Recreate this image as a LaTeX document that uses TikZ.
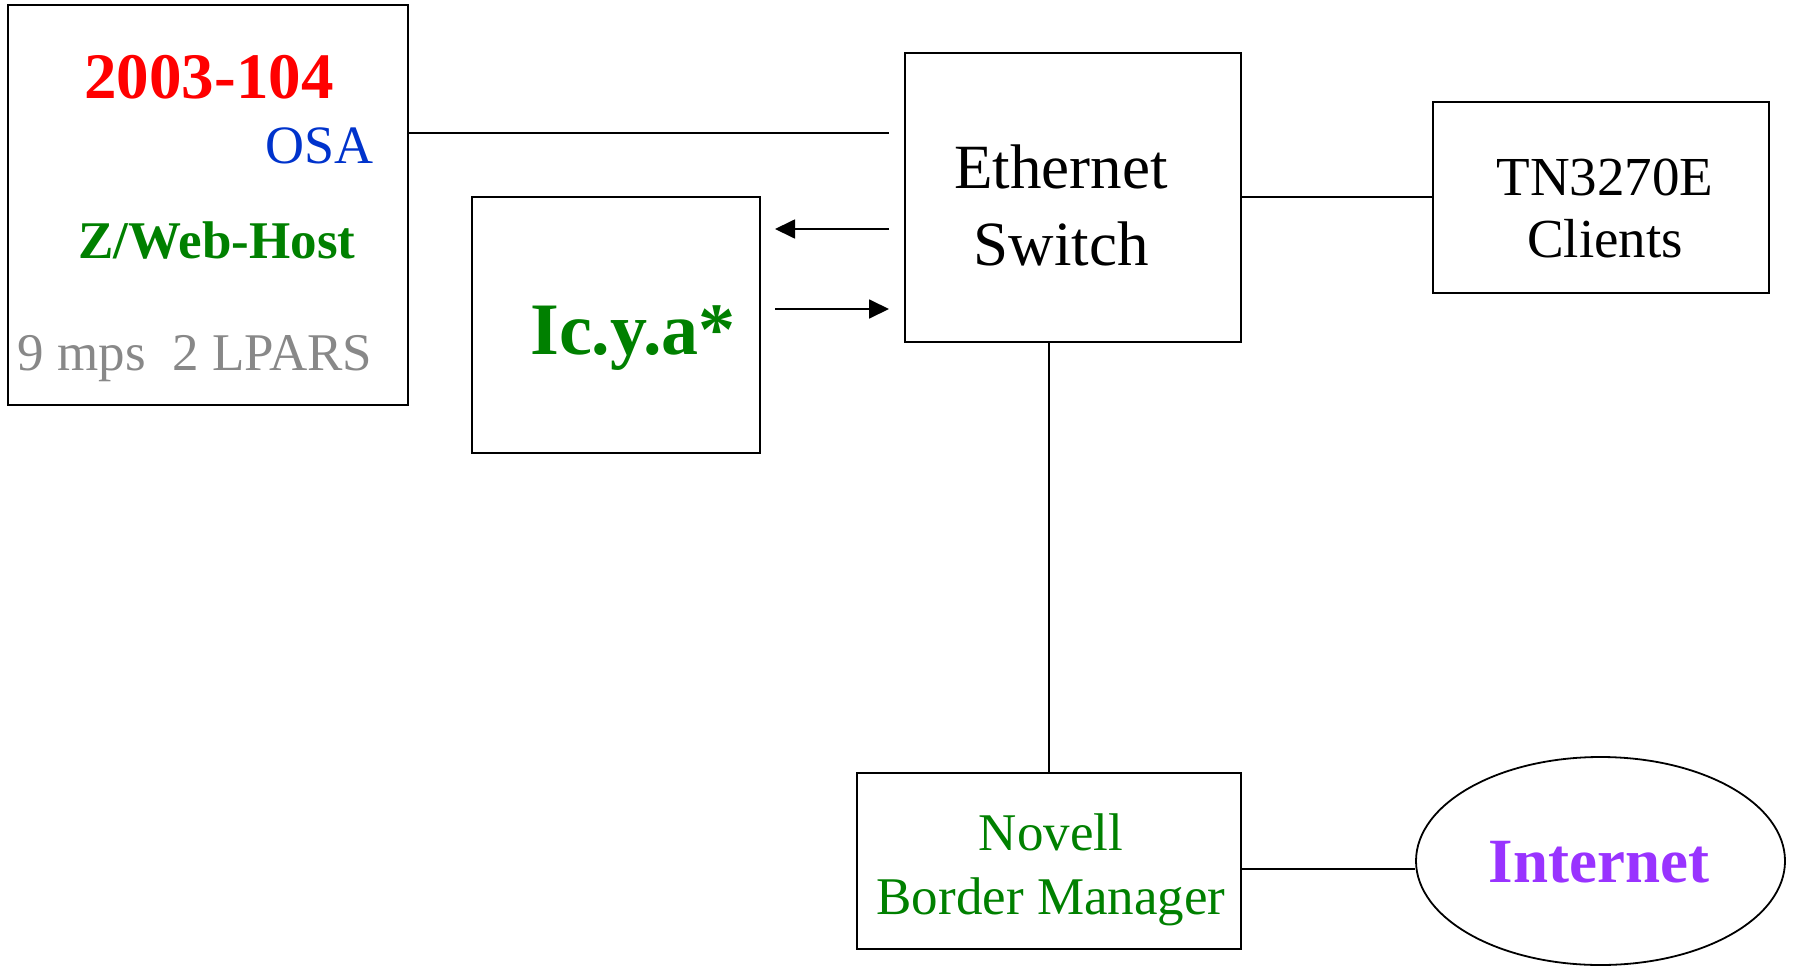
\documentclass[tikz,border=0pt]{standalone}
\usepackage{fontspec}
\setmainfont{Liberation Serif}
\usetikzlibrary{arrows.meta,shapes.geometric}
\definecolor{cred}{HTML}{FF0000}
\definecolor{cblue}{HTML}{0033CC}
\definecolor{cgreen}{HTML}{008000}
\definecolor{cgray}{HTML}{888888}
\definecolor{cpurple}{HTML}{9933FF}
\tikzset{
  box/.style={draw=black, line width=1.8pt, rectangle, inner sep=0pt},
  conn/.style={draw=black, line width=1.8pt},
  arr/.style={conn, -{Triangle[length=20pt,width=19pt]}},
  lbl/.style={anchor=base, inner sep=0pt},
}
\newcommand{\fs}[1]{\fontsize{#1}{#1}\selectfont}
\begin{document}
\begin{tikzpicture}[x=1pt,y=-1pt]
\useasboundingbox (0,0) rectangle (1793,966);
% boxes
\node[box, minimum width=400pt, minimum height=400pt] (host) at (208,205) {};
\node[box, minimum width=288pt, minimum height=256pt] (icya) at (616,325) {};
\node[box, minimum width=336pt, minimum height=289pt] (switch) at (1073,197.5) {};
\node[box, minimum width=336pt, minimum height=191pt] (tn) at (1601,197.5) {};
\node[box, minimum width=384pt, minimum height=176pt] (novell) at (1049,861) {};
\node[draw=black, line width=1.8pt, ellipse, minimum width=369pt, minimum height=208pt, inner sep=0pt] (inet) at (1600.5,861) {};
% texts
\node[lbl, text=cred, font=\fs{65}\bfseries] (t1) at (209,99) {2003-104};
\node[lbl, anchor=base east, text=cblue, font=\fs{54}] (t2) at (374,163) {OSA};
\node[lbl, text=cgreen, font=\fs{53}\bfseries] (t3) at (217,258) {Z/Web-Host};
\node[lbl, text=cgray, font=\fs{53}] (t4) at (195,370) {9 mps\ \ 2 LPARS};
\node[lbl, text=cgreen, font=\fs{74}\bfseries] (t5) at (633,354) {Ic.y.a*};
\node[lbl, font=\fs{63}] (t6) at (1061,188) {Ethernet};
\node[lbl, font=\fs{63}] (t7) at (1061,265) {Switch};
\node[lbl, font=\fs{55}] (t8) at (1605,195) {TN3270E};
\node[lbl, font=\fs{55}] (t9) at (1605,257) {Clients};
\node[lbl, text=cgreen, font=\fs{53}] (t10) at (1051,850) {Novell};
\node[lbl, text=cgreen, font=\fs{53}] (t11) at (1051,914) {Border Manager};
\node[lbl, text=cpurple, font=\fs{63}\bfseries] (t12) at (1599,882) {Internet};
% connector endpoints
\coordinate (hostend) at (889,133);
\coordinate (a1s) at (889,229);
\coordinate (a1e) at (775,229);
\coordinate (a2s) at (775,309);
\coordinate (a2e) at (889,309);
% connectors
\draw[conn] (host.east |- hostend) -- (hostend);
\draw[arr] (a1s) -- (a1e);
\draw[arr] (a2s) -- (a2e);
\draw[conn] (switch.east |- 0,197) -- (tn.west |- 0,197);
\draw[conn] (switch.south -| 1049,0) -- (novell.north -| 1049,0);
\draw[conn] (novell.east |- 0,869) -- (inet.west |- 0,869);
\end{tikzpicture}
\end{document}
